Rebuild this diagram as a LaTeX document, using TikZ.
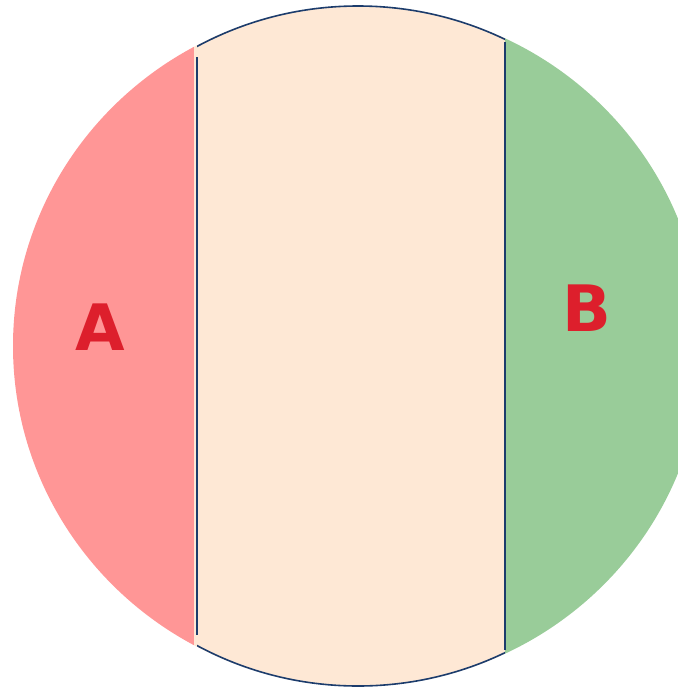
\documentclass[tikz,border=0pt]{standalone}
\usepackage{fontspec}
\newfontfamily\letterfont{DejaVu Sans}
\usepackage{tikz}
\usetikzlibrary{positioning}
\usepackage{xcolor}
\definecolor{pinkA}{HTML}{FF9696}
\definecolor{peachMid}{HTML}{FEE8D5}
\definecolor{greenB}{HTML}{99CC99}
\definecolor{edgeBlue}{HTML}{1C3C6C}
\definecolor{labelRed}{HTML}{DD1F2C}

\begin{document}
\begin{tikzpicture}[
    x=1pt,y=-1pt,
    edge/.style={draw=edgeBlue,line width=1.6pt},
    letter/.style={text=labelRed,font=\letterfont\bfseries\fontsize{64}{64}\selectfont,inner sep=0pt}
]
\useasboundingbox (0,0) rectangle (678,689);
% three parts of the disc
\begin{scope}
  \clip (358,346) ellipse (345 and 340);
  \fill[pinkA] (0,0) rectangle (194,689);
  \fill[peachMid] (194,0) rectangle (505,689);
  \fill[greenB] (505,0) rectangle (700,689);
\end{scope}
% outline of the middle part
\begin{scope}
  \clip (197,0) rectangle (505,689);
  \draw[edge] (358,346) ellipse (340 and 340);
\end{scope}
\coordinate (lt) at (197,57);
\coordinate (lb) at (197,635);
\coordinate (rt) at (505,42);
\coordinate (rb) at (505,650);
\draw[edge] (lt) -- (lb);
\draw[edge] (rt) -- (rb);

\node[letter] (labelA) at (100,327) {A};
\node[letter] (labelB) at (587,308) {B};
\end{tikzpicture}
\end{document}
